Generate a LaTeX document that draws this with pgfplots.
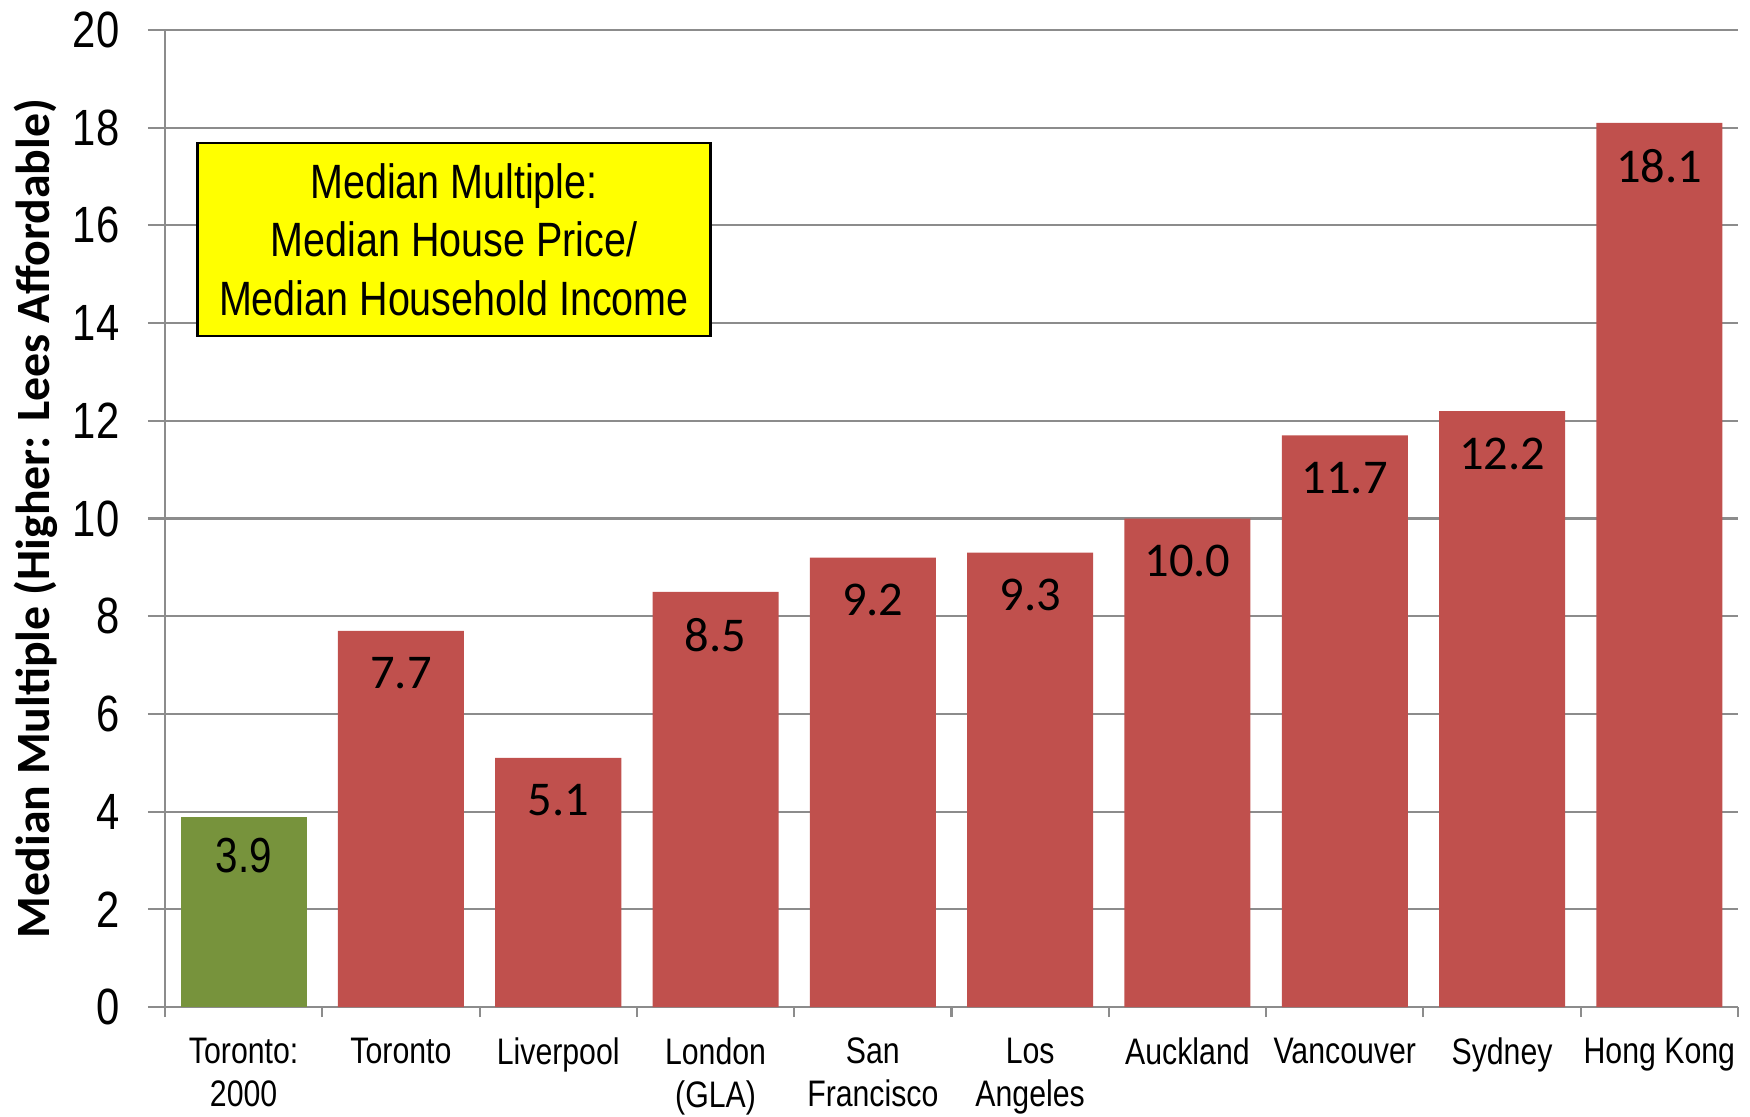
\documentclass[border=0pt]{standalone}
\usepackage{pgfplots}
\pgfplotsset{compat=1.18}
\usepackage{fontspec}
\setmainfont{Liberation Sans}
\newfontfamily\narrow{Liberation Sans}[FakeStretch=0.82]
\newfontfamily\calib{Carlito}
\definecolor{barred}{HTML}{C0504D}
\definecolor{bargreen}{HTML}{77933C}
\definecolor{gridgray}{HTML}{8C8C8C}
\definecolor{boxyellow}{HTML}{FFFF00}
\begin{document}
\begin{tikzpicture}
\useasboundingbox (-1.65,-1.09) rectangle (15.85,10.07);
\begin{axis}[
  scale only axis,
  width=15.73cm, height=9.77cm,
  xmin=-0.5, xmax=9.5,
  ymin=0, ymax=20,
  ytick={0,2,...,20},
  xtick={0,...,9},
  xticklabels={{Toronto:\\2000},Toronto,Liverpool,{London\\(GLA)},{San\\Francisco},{Los\\Angeles},Auckland,Vancouver,Sydney,{Hong Kong}},
  minor xtick={-0.5,0.5,...,9.5},
  axis x line=bottom, axis y line=left,
  axis line style={-, draw=gridgray, line width=0.6pt},
  every major x tick/.append style={draw=none},
  every minor x tick/.append style={draw=gridgray, line width=0.6pt},
  ytick style={draw=gridgray, line width=0.6pt},
  tick align=outside,
  major tick length=1.7mm, minor tick length=1mm,
  ymajorgrids,
  grid style={draw=gridgray, line width=0.6pt},
  /pgf/number format/assume math mode=true,
  yticklabel style={font=\narrow\fontsize{14.5}{16}\selectfont, inner sep=0pt, xshift=-2.8mm},
  xticklabel style={font=\narrow\fontsize{10.5}{12.1}\selectfont, align=center, anchor=north, inner sep=0pt, yshift=-1.35mm},
  ylabel={Median Multiple (Higher: Lees Affordable)},
  ylabel style={font=\calib\bfseries\fontsize{13.6}{15}\selectfont, at={(axis description cs:-0.082,0.5)}, anchor=center},
  ybar, bar width=12.6mm, bar shift=0pt,
  clip=false,
]
\addplot[fill=bargreen, draw=none,
  nodes near coords={\pgfmathprintnumber[fixed,fixed zerofill,precision=1]{\pgfplotspointmeta}},
  every node near coord/.append style={anchor=north, yshift=-2.1mm, inner sep=0pt, font=\narrow\fontsize{14}{16}\selectfont, text=black}]
  coordinates {(0,3.9)};
\addplot[fill=barred, draw=none,
  nodes near coords={\pgfmathprintnumber[fixed,fixed zerofill,precision=1]{\pgfplotspointmeta}},
  every node near coord/.append style={anchor=north, yshift=-2.6mm, inner sep=0pt, font=\calib\fontsize{13.8}{16}\selectfont, text=black}]
  coordinates {(1,7.7) (2,5.1) (3,8.5) (4,9.2) (5,9.3) (6,10.0) (7,11.7) (8,12.2) (9,18.1)};
\node[draw=black, line width=0.6pt, fill=boxyellow, minimum width=51.3mm, minimum height=19.3mm, align=center,
  font=\narrow\fontsize{13.7}{16.6}\selectfont, inner sep=0pt]
  at (axis cs:1.337,15.71) {Median Multiple:\\Median House Price/\\Median Household Income};
\end{axis}
\end{tikzpicture}
\end{document}
